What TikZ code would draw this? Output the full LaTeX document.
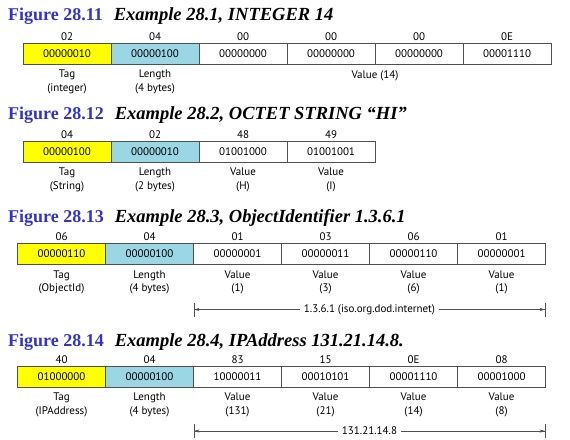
\documentclass[tikz,border=0pt]{standalone}
\usepackage{fontspec}
\setmainfont{Liberation Serif}
\newfontfamily\cellfont{PT Sans}
\usetikzlibrary{arrows.meta,positioning}
\definecolor{figblue}{RGB}{51,51,204}
\definecolor{tagyellow}{RGB}{255,255,0}
\definecolor{lenblue}{RGB}{155,214,228}
\definecolor{cellgray}{RGB}{80,80,80}
\newcommand{\figno}[1]{{\color{figblue}\bfseries\fontsize{18bp}{20bp}\selectfont #1}\hspace{11bp}}
\newcommand{\figcap}[1]{{\bfseries\itshape\fontsize{18.5bp}{20bp}\selectfont #1}}

\begin{document}
\begin{tikzpicture}[
    x=1bp,y=-1bp,
    figtitle/.style={anchor=base west,inner sep=0},
    cell/.style={draw=cellgray,line width=0.9bp,minimum width=88bp,minimum height=21bp,inner sep=0,outer sep=0,anchor=west,font=\cellfont\fontsize{11bp}{13bp}\selectfont},
    tagcell/.style={cell,fill=tagyellow},
    lencell/.style={cell,fill=lenblue},
    hexlbl/.style={inner sep=1bp,font=\cellfont\fontsize{11bp}{13bp}\selectfont},
    fieldlbl/.style={inner sep=1bp,align=center,font=\cellfont\fontsize{11bp}{13.5bp}\selectfont},
    spanarrow/.style={draw=cellgray,line width=0.7bp,arrows={Bar[width=14bp,line width=0.9bp]Stealth[length=5bp,width=3.2bp]-Stealth[length=5bp,width=3.2bp]Bar[width=14bp,line width=0.9bp]}},
    spanlbl/.style={fill=white,inner sep=4bp,font=\cellfont\fontsize{11bp}{13bp}\selectfont}
]
\useasboundingbox[fill=white] (0,0) rectangle (570,440);

% Figure 28.11
\node[figtitle] (fig11) at (8,21) {\figno{Figure 28.11}\figcap{Example 28.1, INTEGER 14}};
\node[tagcell] (t1) at (23,53.5) {00000010};
\node[lencell,right=0pt of t1] (l1) {00000100};
\node[cell,right=0pt of l1] (v11) {00000000};
\node[cell,right=0pt of v11] (v12) {00000000};
\node[cell,right=0pt of v12] (v13) {00000000};
\node[cell,right=0pt of v13] (v14) {00001110};
\node[hexlbl,above=1.5bp of t1] {02};
\node[hexlbl,above=1.5bp of l1] {04};
\node[hexlbl,above=1.5bp of v11] {00};
\node[hexlbl,above=1.5bp of v12] {00};
\node[hexlbl,above=1.5bp of v13] {00};
\node[hexlbl,above=1.5bp of v14] {0E};
\node[fieldlbl,below=5bp of t1] {Tag\\(integer)};
\node[fieldlbl,below=5bp of l1] {Length\\(4 bytes)};
\node[fieldlbl,below=5bp of v12.south east] {Value (14)};

% Figure 28.12
\node[figtitle] (fig12) at (8,120) {\figno{Figure 28.12}\figcap{Example 28.2, OCTET STRING “HI”}};
\node[tagcell] (t2) at (23,151.5) {00000100};
\node[lencell,right=0pt of t2] (l2) {00000010};
\node[cell,right=0pt of l2] (v21) {01001000};
\node[cell,right=0pt of v21] (v22) {01001001};
\node[hexlbl,above=1.5bp of t2] {04};
\node[hexlbl,above=1.5bp of l2] {02};
\node[hexlbl,above=1.5bp of v21] {48};
\node[hexlbl,above=1.5bp of v22] {49};
\node[fieldlbl,below=5bp of t2] {Tag\\(String)};
\node[fieldlbl,below=5bp of l2] {Length\\(2 bytes)};
\node[fieldlbl,below=5bp of v21] {Value\\(H)};
\node[fieldlbl,below=5bp of v22] {Value\\(I)};

% Figure 28.13
\node[figtitle] (fig13) at (8,223) {\figno{Figure 28.13}\figcap{Example 28.3, ObjectIdentifier 1.3.6.1}};
\node[tagcell] (t3) at (17.5,254) {00000110};
\node[lencell,right=0pt of t3] (l3) {00000100};
\node[cell,right=0pt of l3] (v31) {00000001};
\node[cell,right=0pt of v31] (v32) {00000011};
\node[cell,right=0pt of v32] (v33) {00000110};
\node[cell,right=0pt of v33] (v34) {00000001};
\node[hexlbl,above=1.5bp of t3] {06};
\node[hexlbl,above=1.5bp of l3] {04};
\node[hexlbl,above=1.5bp of v31] {01};
\node[hexlbl,above=1.5bp of v32] {03};
\node[hexlbl,above=1.5bp of v33] {06};
\node[hexlbl,above=1.5bp of v34] {01};
\node[fieldlbl,below=5bp of t3] {Tag\\(ObjectId)};
\node[fieldlbl,below=5bp of l3] {Length\\(4 bytes)};
\node[fieldlbl,below=5bp of v31] {Value\\(1)};
\node[fieldlbl,below=5bp of v32] {Value\\(3)};
\node[fieldlbl,below=5bp of v33] {Value\\(6)};
\node[fieldlbl,below=5bp of v34] {Value\\(1)};
\coordinate (oidl) at (v31.west |- 0,309.5);
\coordinate (oidr) at (v34.east |- 0,309.5);
\draw[spanarrow] (oidl) -- node[spanlbl] {1.3.6.1 (iso.org.dod.internet)} (oidr);

% Figure 28.14
\node[figtitle] (fig14) at (8,346) {\figno{Figure 28.14}\figcap{Example 28.4, IPAddress 131.21.14.8.}};
\node[tagcell] (t4) at (17.5,376.5) {01000000};
\node[lencell,right=0pt of t4] (l4) {00000100};
\node[cell,right=0pt of l4] (v41) {10000011};
\node[cell,right=0pt of v41] (v42) {00010101};
\node[cell,right=0pt of v42] (v43) {00001110};
\node[cell,right=0pt of v43] (v44) {00001000};
\node[hexlbl,above=1.5bp of t4] {40};
\node[hexlbl,above=1.5bp of l4] {04};
\node[hexlbl,above=1.5bp of v41] {83};
\node[hexlbl,above=1.5bp of v42] {15};
\node[hexlbl,above=1.5bp of v43] {0E};
\node[hexlbl,above=1.5bp of v44] {08};
\node[fieldlbl,below=5bp of t4] {Tag\\(IPAddress)};
\node[fieldlbl,below=5bp of l4] {Length\\(4 bytes)};
\node[fieldlbl,below=5bp of v41] {Value\\(131)};
\node[fieldlbl,below=5bp of v42] {Value\\(21)};
\node[fieldlbl,below=5bp of v43] {Value\\(14)};
\node[fieldlbl,below=5bp of v44] {Value\\(8)};
\coordinate (ipl) at (v41.west |- 0,431);
\coordinate (ipr) at (v44.east |- 0,431);
\draw[spanarrow] (ipl) -- node[spanlbl] {131.21.14.8} (ipr);

\end{tikzpicture}
\end{document}
